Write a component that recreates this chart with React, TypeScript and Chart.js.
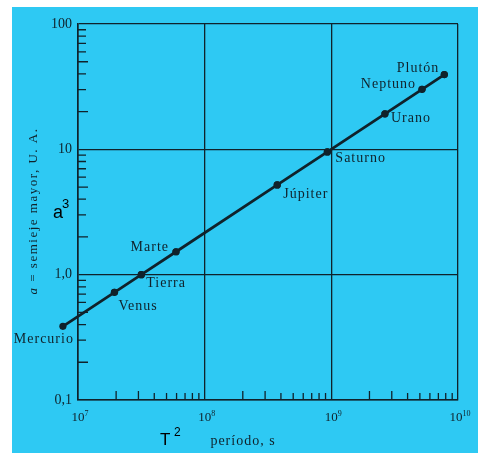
import React, { useEffect, useRef } from 'react';
import { Chart, registerables } from 'chart.js';
Chart.register(...registerables);

const planets = ['Mercurio', 'Venus', 'Tierra', 'Marte', 'Júpiter', 'Saturno', 'Urano', 'Neptuno', 'Plutón'];
const periodS = [7.6e6, 1.94e7, 3.16e7, 5.94e7, 3.74e8, 9.3e8, 2.65e9, 5.2e9, 7.8e9];
const semiMajorAU = [0.387, 0.723, 1.0, 1.524, 5.2, 9.54, 19.2, 30.1, 39.5];
const xTickValues = [1e7, 1e8, 1e9, 1e10];
const xTickExponents = ['7', '8', '9', '10'];
const yTickValues = [0.1, 1, 10, 100];
const yTickLabels = ['0,1', '1,0', '10', '100'];
const minorMultipliers = [2, 3, 4, 5, 6, 7, 8, 9];

const labelPlacement = [
  { dx: 11, dy: 13, align: 'right' },
  { dx: 4, dy: 14, align: 'left' },
  { dx: 5, dy: 9, align: 'left' },
  { dx: -7, dy: -4, align: 'right' },
  { dx: 6, dy: 9, align: 'left' },
  { dx: 8, dy: 6, align: 'left' },
  { dx: 6, dy: 5, align: 'left' },
  { dx: -6, dy: -5, align: 'right' },
  { dx: -5, dy: -6, align: 'right' },
];

const CYAN = '#2ec9f3';
const INK = '#10222b';
const SERIF = '"Liberation Serif", "DejaVu Serif", serif';

const bgPlugin = {
  id: 'bg',
  beforeDraw(chart: any) {
    const { ctx, width, height } = chart;
    ctx.save();
    ctx.fillStyle = '#ffffff';
    ctx.fillRect(0, 0, width, height);
    ctx.fillStyle = CYAN;
    ctx.fillRect(12, 7, width - 12, height - 9);
    ctx.restore();
  },
};

const minorTicksPlugin = {
  id: 'minorTicks',
  beforeDatasetsDraw(chart: any) {
    const { ctx, chartArea, scales } = chart;
    const x = scales.x;
    const y = scales.y;
    ctx.save();
    ctx.strokeStyle = INK;
    ctx.lineWidth = 1.3;
    ctx.beginPath();
    for (let i = 0; i < yTickValues.length - 1; i++) {
      for (const m of minorMultipliers) {
        const py = y.getPixelForValue(yTickValues[i] * m);
        const len = m === 2 || m === 5 ? 10 : 8;
        ctx.moveTo(chartArea.left, py);
        ctx.lineTo(chartArea.left + len, py);
      }
    }
    for (let i = 0; i < xTickValues.length - 1; i++) {
      for (const m of minorMultipliers) {
        const px = x.getPixelForValue(xTickValues[i] * m);
        const len = m === 2 || m === 3 ? 9 : 7;
        ctx.moveTo(px, chartArea.bottom);
        ctx.lineTo(px, chartArea.bottom - len);
      }
    }
    ctx.stroke();
    ctx.restore();
  },
};

const textPlugin = {
  id: 'texts',
  afterDatasetsDraw(chart: any) {
    const { ctx, chartArea, scales } = chart;
    const meta = chart.getDatasetMeta(0);
    // draw every point marker without chart-area culling (Mercurio lies left of 10^7)
    meta.data.forEach((el: any) => el.draw(ctx));
    ctx.save();
    ctx.fillStyle = INK;
    // planet labels
    ctx.font = `14px ${SERIF}`;
    (ctx as any).letterSpacing = '1px';
    ctx.textBaseline = 'middle';
    planets.forEach((name, i) => {
      const el = meta.data[i];
      const p = labelPlacement[i];
      ctx.textAlign = p.align;
      ctx.fillText(name, el.x + p.dx, el.y + p.dy);
    });

    // x tick labels with superscript exponents
    (ctx as any).letterSpacing = '0px';
    xTickValues.forEach((v, i) => {
      const px = scales.x.getPixelForValue(v);
      ctx.font = `13px ${SERIF}`;
      const baseW = ctx.measureText('10').width;
      ctx.font = `8px ${SERIF}`;
      const expW = ctx.measureText(xTickExponents[i]).width;
      const start = px + 2 - (baseW + expW) / 2;
      ctx.textAlign = 'left';
      ctx.textBaseline = 'alphabetic';
      ctx.font = `13px ${SERIF}`;
      ctx.fillText('10', start, chartArea.bottom + 21);
      ctx.font = `8px ${SERIF}`;
      ctx.fillText(xTickExponents[i], start + baseW, chartArea.bottom + 16);
    });

    // x axis title
    ctx.font = `14px ${SERIF}`;
    (ctx as any).letterSpacing = '1px';
    ctx.textAlign = 'center';
    ctx.textBaseline = 'middle';
    ctx.fillText('período, s', 243, 441);

    // y axis title (rotated), italic "a"
    ctx.save();
    ctx.translate(34, 211);
    ctx.rotate(-Math.PI / 2);
    (ctx as any).letterSpacing = '1.5px';
    ctx.font = `italic 13px ${SERIF}`;
    const wa = ctx.measureText('a').width;
    ctx.font = `13px ${SERIF}`;
    const rest = ' = semieje mayor, U. A.';
    const wr = ctx.measureText(rest).width;
    const s = -(wa + wr) / 2;
    ctx.textAlign = 'left';
    ctx.font = `italic 13px ${SERIF}`;
    ctx.fillText('a', s, 0);
    ctx.font = `13px ${SERIF}`;
    ctx.fillText(rest, s + wa, 0);
    ctx.restore();

    // overlaid a³ and T²
    (ctx as any).letterSpacing = '0px';
    ctx.fillStyle = '#000000';
    ctx.textAlign = 'left';
    ctx.textBaseline = 'alphabetic';
    ctx.font = '18px "Liberation Sans", Arial, sans-serif';
    ctx.fillText('a', 53, 218);
    ctx.font = '13px "Liberation Sans", Arial, sans-serif';
    ctx.fillText('3', 62, 208);
    ctx.font = '17px "Liberation Sans", Arial, sans-serif';
    ctx.fillText('T', 160, 445);
    ctx.font = '12px "Liberation Sans", Arial, sans-serif';
    ctx.fillText('2', 174, 436);
    ctx.restore();
  },
};

export default function App() {
  const ref = useRef<HTMLCanvasElement>(null);
  useEffect(() => {
    const chart = new Chart(ref.current as HTMLCanvasElement, {
      type: 'line',
      data: {
        datasets: [
          {
            data: periodS.map((p, i) => ({ x: p, y: semiMajorAU[i] })),
            borderColor: INK,
            backgroundColor: INK,
            borderWidth: 2.8,
            pointRadius: 3.6,
            pointBackgroundColor: INK,
            pointBorderWidth: 0,
            tension: 0,
            clip: false as any,
          },
        ],
      },
      options: {
        animation: false,
        responsive: false,
        layout: { padding: { left: 0, top: 24, right: 20, bottom: 0 } },
        plugins: { legend: { display: false }, tooltip: { enabled: false } },
        scales: {
          x: {
            type: 'logarithmic',
            min: 1e7,
            max: 1e10,
            afterBuildTicks: (scale: any) => {
              scale.ticks = xTickValues.map((v) => ({ value: v }));
            },
            afterFit: (scale: any) => {
              scale.height = 55;
            },
            ticks: { display: false },
            grid: { color: INK, lineWidth: 1.3, drawTicks: false },
            border: { color: INK, width: 1.6 },
          },
          y: {
            type: 'logarithmic',
            min: 0.1,
            max: 100,
            afterBuildTicks: (scale: any) => {
              scale.ticks = yTickValues.map((v) => ({ value: v }));
            },
            afterFit: (scale: any) => {
              scale.width = 78;
            },
            ticks: {
              padding: 6,
              color: INK,
              font: { family: SERIF, size: 14 },
              callback: (_v: any, i: number) => yTickLabels[i],
            },
            grid: { color: INK, lineWidth: 1.3, drawTicks: false },
            border: { color: INK, width: 1.6 },
          },
        },
      },
      plugins: [bgPlugin, minorTicksPlugin, textPlugin],
    } as any);
    return () => chart.destroy();
  }, []);
  return (
    <div style={{ position: 'absolute', left: 0, top: 0, width: 478, height: 455 }}>
      <canvas ref={ref} width={478} height={455} style={{ display: 'block' }} />
    </div>
  );
}
